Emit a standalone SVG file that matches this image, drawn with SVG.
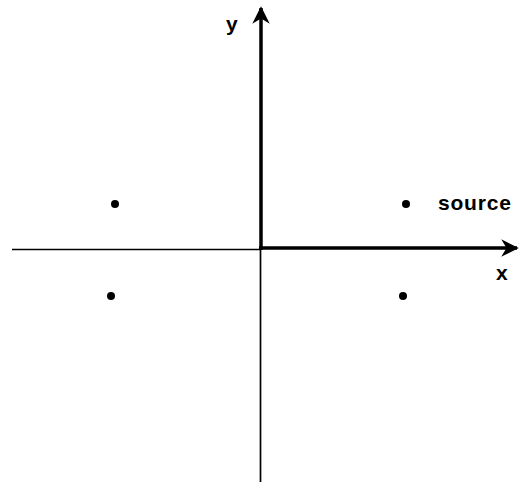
<svg xmlns="http://www.w3.org/2000/svg" width="520" height="484" viewBox="0 0 520 484">
<style>
.thin{stroke:#000;stroke-width:1.7;fill:none}
.thick{stroke:#000;stroke-width:3.5;fill:none}
.dot{fill:#000}
text{font-family:"Liberation Sans",Arial,sans-serif;font-size:21px;font-weight:bold;fill:#000}
</style>
<defs>
<marker id="arr" viewBox="0 0 10 10" refX="9" refY="5" markerWidth="5" markerHeight="5" orient="auto" markerUnits="strokeWidth">
<path d="M0,0 L10,5 L0,10 L3,5 Z" fill="#000"/>
</marker>
</defs>
<rect width="520" height="484" fill="#fff"/>
<g id="connectors">
<line class="thin" x1="12" y1="249.5" x2="261" y2="249.5"/>
<line class="thin" x1="260.5" y1="248" x2="260.5" y2="482"/>
<line id="x-axis" class="thick" x1="259" y1="248" x2="517" y2="248" marker-end="url(#arr)"/>
<line id="y-axis" class="thick" x1="261" y1="250" x2="261" y2="8" marker-end="url(#arr)"/>
</g>
<g id="label-y"><text x="226" y="31">y</text></g>
<g id="label-x"><text x="496" y="280">x</text></g>
<g id="source">
<circle class="dot" cx="406" cy="204" r="4"/>
<text x="438" y="210" letter-spacing="0.8">source</text>
</g>
<g id="image1"><circle class="dot" cx="115" cy="204" r="4"/></g>
<g id="image2"><circle class="dot" cx="111" cy="296" r="4"/></g>
<g id="image3"><circle class="dot" cx="403" cy="296" r="4"/></g>
</svg>
